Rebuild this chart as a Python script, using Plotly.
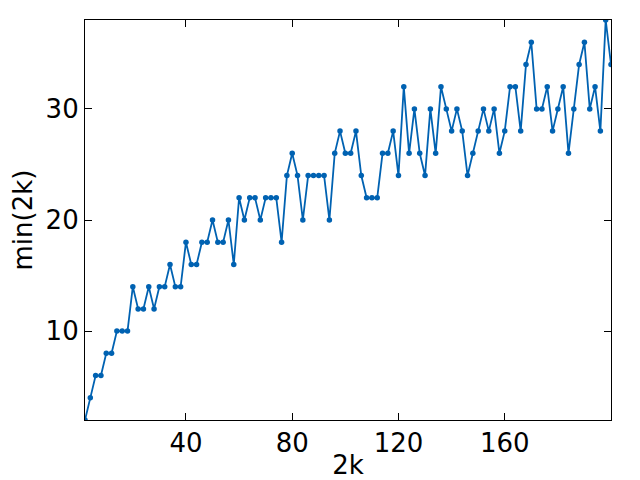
import plotly.graph_objects as go

# 2k = 2, 4, ..., 200
K2 = list(range(2, 201, 2))
MIN_2K = [
    2, 4, 6, 6, 8, 8, 10, 10, 10, 14,
    12, 12, 14, 12, 14, 14, 16, 14, 14, 18,
    16, 16, 18, 18, 20, 18, 18, 20, 16, 22,
    20, 22, 22, 20, 22, 22, 22, 18, 24, 26,
    24, 20, 24, 24, 24, 24, 20, 26, 28, 26,
    26, 28, 24, 22, 22, 22, 26, 26, 28, 24,
    32, 26, 30, 26, 24, 30, 26, 32, 30, 28,
    30, 28, 24, 26, 28, 30, 28, 30, 26, 28,
    32, 32, 28, 34, 36, 30, 30, 32, 28, 30,
    32, 26, 30, 34, 36, 30, 32, 28, 38, 34,
]
X_TICKS = [40, 80, 120, 160]
Y_TICKS = [10, 20, 30]

LINE = "#0062B2"
FONT = "DejaVu Sans"

fig = go.Figure(
    go.Scatter(
        x=K2, y=MIN_2K, mode="lines+markers",
        line=dict(color=LINE, width=1.8),
        marker=dict(color=LINE, size=5.5),
    )
)

axis = dict(
    showgrid=False, zeroline=False, showline=True, linecolor="black",
    linewidth=1.2, mirror="ticks", ticks="inside", ticklen=7,
    tickcolor="black", tickwidth=1.2,
    tickfont=dict(family=FONT, size=26, color="black"),
)

# page body keeps its 8px margin, so the figure is 8px smaller each way
fig.update_layout(
    width=632, height=472,
    paper_bgcolor="white", plot_bgcolor="white",
    margin=dict(l=77, r=29, t=12, b=60, autoexpand=False),
    showlegend=False,
    font=dict(family=FONT, size=26, color="black"),
    xaxis={**axis, "range": [2, 200], "tickvals": X_TICKS, "automargin": False,
           "title": dict(text="2k", standoff=11, font=dict(family=FONT, size=26))},
    yaxis={**axis, "range": [2, 38], "tickvals": Y_TICKS, "automargin": False,
           "title": dict(text="min(2k)", standoff=11, font=dict(family=FONT, size=26))},
)

fig.write_html("out.html")
